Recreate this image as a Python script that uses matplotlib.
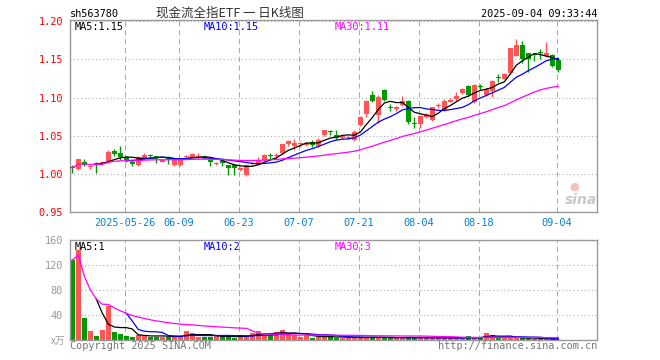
import numpy as np
import pandas as pd
import matplotlib
matplotlib.use("Agg")
import matplotlib.pyplot as plt

W, H = 660, 360

# daily candles, index 0 = 2025-05-13
opens = [1.009, 1.006, 1.015, 1.0095, 1.0135, 1.013, 1.015, 1.0295, 1.028, 1.022,
         1.016, 1.011, 1.021, 1.025, 1.023, 1.016, 1.021, 1.011, 1.011, 1.022,
         1.022, 1.021, 1.023, 1.018, 1.0135, 1.0175, 1.011, 1.011, 1.0045, 0.998,
         1.013, 1.012, 1.0185, 1.0245, 1.0235, 1.027, 1.0385, 1.036, 1.0385, 1.0375,
         1.042, 1.036, 1.051, 1.055, 1.051, 1.047, 1.0475, 1.044, 1.064, 1.078,
         1.103, 1.077, 1.1105, 1.0875, 1.085, 1.090, 1.0955, 1.067, 1.065, 1.075,
         1.070, 1.089, 1.083, 1.0945, 1.098, 1.1065, 1.115, 1.094, 1.1145, 1.104,
         1.108, 1.126, 1.125, 1.132, 1.1547, 1.169, 1.158, 1.156, 1.1585, 1.154,
         1.1557, 1.149]
highs = [1.011, 1.020, 1.019, 1.012, 1.015, 1.016, 1.031, 1.032, 1.036, 1.023,
         1.018, 1.024, 1.027, 1.026, 1.024, 1.019, 1.024, 1.019, 1.019, 1.025,
         1.027, 1.028, 1.024, 1.019, 1.016, 1.018, 1.012, 1.013, 1.009, 1.011,
         1.016, 1.022, 1.026, 1.028, 1.028, 1.039, 1.044, 1.046, 1.042, 1.042,
         1.0445, 1.047, 1.058, 1.058, 1.057, 1.050, 1.049, 1.057, 1.076, 1.097,
         1.108, 1.103, 1.1115, 1.0915, 1.089, 1.1015, 1.097, 1.0745, 1.077, 1.0795,
         1.0875, 1.093, 1.098, 1.100, 1.107, 1.112, 1.116, 1.118, 1.118, 1.112,
         1.1225, 1.131, 1.132, 1.165, 1.1767, 1.174, 1.159, 1.159, 1.164, 1.173,
         1.157, 1.150]
lows = [1.001, 1.005, 1.010, 1.007, 1.001, 1.012, 1.014, 1.024, 1.018, 1.016,
        1.010, 1.010, 1.020, 1.022, 1.014, 1.015, 1.013, 1.010, 1.010, 1.019,
        1.021, 1.019, 1.019, 1.010, 1.012, 1.010, 0.998, 0.999, 1.004, 0.997,
        1.011, 1.011, 1.017, 1.018, 1.018, 1.026, 1.037, 1.031, 1.035, 1.036,
        1.035, 1.035, 1.050, 1.0515, 1.044, 1.046, 1.046, 1.043, 1.063, 1.074,
        1.094, 1.067, 1.096, 1.0825, 1.083, 1.089, 1.066, 1.060, 1.0605, 1.073,
        1.069, 1.086, 1.082, 1.094, 1.096, 1.105, 1.102, 1.093, 1.110, 1.102,
        1.101, 1.121, 1.124, 1.131, 1.154, 1.1447, 1.133, 1.148, 1.150, 1.153,
        1.140, 1.134]
closes = [1.0075, 1.019, 1.012, 1.0105, 1.0125, 1.015, 1.029, 1.0265, 1.022, 1.018,
          1.0135, 1.0225, 1.025, 1.023, 1.021, 1.018, 1.020, 1.018, 1.018, 1.023,
          1.026, 1.023, 1.021, 1.0155, 1.014, 1.0145, 1.008, 1.008, 1.008, 1.011,
          1.0145, 1.018, 1.0245, 1.0235, 1.0245, 1.0385, 1.043, 1.040, 1.040, 1.041,
          1.0375, 1.0445, 1.057, 1.0545, 1.047, 1.049, 1.048, 1.055, 1.075, 1.096,
          1.095, 1.101, 1.097, 1.0865, 1.0875, 1.096, 1.068, 1.066, 1.0765, 1.078,
          1.087, 1.090, 1.096, 1.097, 1.102, 1.111, 1.103, 1.117, 1.1135, 1.111,
          1.1215, 1.1255, 1.1315, 1.1645, 1.1688, 1.150, 1.150, 1.1555, 1.158, 1.158,
          1.141, 1.136]
# volume in 万
volumes = [128, 144, 34.7, 14.4, 6.4, 16, 55, 12.3, 9.6, 6.4,
           4.8, 8, 8, 5.6, 5.6, 5.6, 5.6, 5.6, 5.6, 14.4,
           11.7, 5.6, 5.6, 5.6, 6.4, 5.6, 6.4, 3.2, 6.4, 8,
           11.7, 14.4, 8, 8, 12.3, 16, 11.7, 8, 4.8, 8,
           3.2, 5.6, 5.6, 5.6, 4, 4, 3.5, 4, 4, 5,
           4, 4, 4, 3.5, 3.5, 4, 4, 3.5, 4, 3,
           4, 3.5, 3.5, 3, 3.5, 2, 6.4, 3.5, 3.5, 11.7,
           8.5, 3.5, 3.5, 4, 3.5, 3, 3, 2, 1.5, 1.5,
           1, 0.8]

tick_idx = [9, 18, 28, 38, 48, 58, 68, 81]
tick_labels = ["2025-05-26", "06-09", "06-23", "07-07", "07-21", "08-04", "08-18", "09-04"]
price_ticks = [0.95, 1.00, 1.05, 1.10, 1.15, 1.20]
vol_ticks = [40, 80, 120, 160]

RED = "#ff5555"
GREEN = "#009a00"
GRID = "#aaaaaa"
MONO = "DejaVu Sans Mono"
CJK = ["Noto Sans CJK SC", "DejaVu Sans"]


def px(x, y):
    return x / W, 1 - y / H


df = pd.DataFrame({"o": opens, "h": highs, "l": lows, "c": closes, "v": volumes})
x = np.arange(len(df))
up = df.c >= df.o
colors = np.where(up, RED, GREEN)

fig = plt.figure(figsize=(W / 100, H / 100), dpi=100)
ax = fig.add_axes([70 / W, 1 - 212 / H, 527 / W, 192 / H])
axv = fig.add_axes([70 / W, 1 - 340 / H, 527 / W, 100 / H])

x0 = 72.3
xl = ((70 - x0) / 6, (597 - x0) / 6)

for a in (ax, axv):
    a.set_xlim(*xl)
    for s in a.spines.values():
        s.set_color("#999999")
        s.set_linewidth(1)
    a.set_xticks([i - 0.27 for i in tick_idx])
    a.xaxis.grid(True, color=GRID, linestyle=(0, (5, 3.5)), linewidth=0.75)
    a.yaxis.grid(True, color=GRID, linestyle=(0, (1, 2.5)), linewidth=0.75)
    a.set_axisbelow(True)
    a.tick_params(length=0)

# price panel
ax.set_ylim(0.95, 1.2017)
ax.set_yticks(price_ticks)
ax.set_yticklabels(["%.2f" % p for p in price_ticks], family=MONO, fontsize=7.4, color="#ff0000")
ax.set_xticklabels(tick_labels, family=MONO, fontsize=7.4, color="#0a7fd5")
ax.tick_params(axis="y", pad=5)
ax.tick_params(axis="x", pad=4)

body = np.maximum((df.c - df.o).abs(), 0.0012)
ax.vlines(x, df.l, df.h, colors=colors, linewidth=1, zorder=2)
ax.bar(x, body, bottom=np.minimum(df.o, df.c), width=0.82, color=colors, linewidth=0, zorder=3)

ma5 = df.c.rolling(5).mean()
ma10 = df.c.rolling(10).mean()
ma30 = df.c.rolling(30, min_periods=1).mean()
ax.plot(x, ma5, color="black", lw=0.9, zorder=4)
ax.plot(x, ma10, color="#0000ff", lw=0.9, zorder=4)
ax.plot(x, ma30, color="#ff00ff", lw=0.9, zorder=4)

# volume panel
axv.set_ylim(0, 160)
axv.set_yticks(vol_ticks)
axv.set_yticklabels([str(v) for v in vol_ticks], family=MONO, fontsize=7.4, color="#999999")
axv.set_xticklabels([])
axv.tick_params(axis="y", pad=5)
axv.bar(x, df.v, width=0.82, color=colors, linewidth=0, zorder=2)
axv.plot(x, df.v.rolling(5).mean(), color="black", lw=0.9, zorder=3)
axv.plot(x, df.v.rolling(10).mean(), color="#0000ff", lw=0.9, zorder=3)
axv.plot(x, df.v.rolling(30, min_periods=1).mean(), color="#ff00ff", lw=0.9, zorder=3)

# texts
fig.text(*px(70, 14), "sh563780", family=MONO, fontsize=7.4, va="center")
fig.text(*px(230, 13), "现金流全指ETF 一 日K线图", family=CJK, fontsize=9, ha="center", va="center",
         color="#333333")
fig.text(*px(597, 14), "2025-09-04 09:33:44", family=MONO, fontsize=7.4, ha="right", va="center")

for y, labs in ((26.5, ("MA5:1.15", "MA10:1.15", "MA30:1.11")), (247, ("MA5:1", "MA10:2", "MA30:3"))):
    fig.text(*px(75, y), labs[0], family=MONO, fontsize=7.4, va="center", color="black")
    fig.text(*px(204, y), labs[1], family=MONO, fontsize=7.4, va="center", color="#0000ff")
    fig.text(*px(334.5, y), labs[2], family=MONO, fontsize=7.4, va="center", color="#ff00ff")

fig.text(*px(65, 341), "x万", family=["Noto Sans CJK SC", "DejaVu Sans"], fontsize=7, ha="right",
         va="center", color="#999999")
fig.text(*px(70, 346), "Copyright 2025 SINA.COM", family=MONO, fontsize=7.4, va="center", color="#777777")
fig.text(*px(597, 346), "http://finance.sina.com.cn", family=MONO, fontsize=7.4, ha="right",
         va="center", color="#777777")

# sina watermark
fig.text(*px(581, 200), "sina", fontsize=10, fontweight="bold", style="italic", ha="center",
         va="center", color="#c8c8c8")
fig.text(*px(574, 187), "●", fontsize=8, ha="center", va="center", color="#f5c0c0")

fig.savefig("out.png", dpi=100)
